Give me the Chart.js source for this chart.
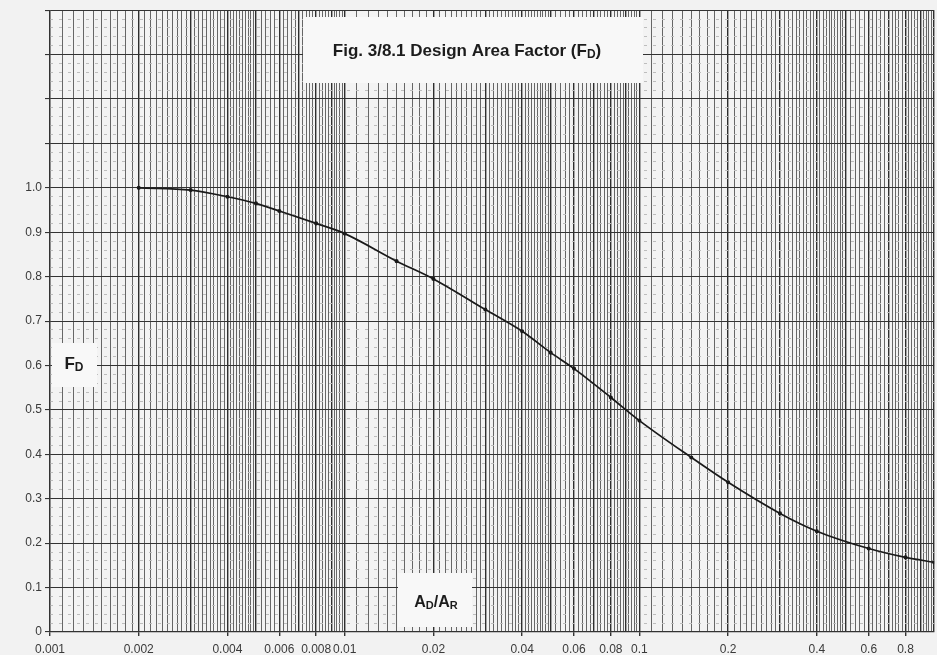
<!DOCTYPE html>
<html>
<head>
<meta charset="utf-8">
<title>Design Area Factor</title>
<script src="https://cdn.jsdelivr.net/npm/chart.js@4.4.1/dist/chart.umd.min.js"></script>
<style>
  html, body { margin: 0; padding: 0; background: #f2f2f2; }
  #wrap { width: 937px; height: 655px; }
</style>
</head>
<body>
<div id="wrap"><canvas id="fdChart" width="937" height="655"></canvas></div>
<script>
// A_D/A_R against F_D
const ratios  = [0.002, 0.003, 0.004, 0.005, 0.006, 0.008, 0.01, 0.015, 0.02, 0.03, 0.04, 0.05, 0.06, 0.08, 0.1, 0.15, 0.2, 0.3, 0.4, 0.6, 0.8, 1.0];
const factors = [1.0, 0.995, 0.98, 0.965, 0.948, 0.92, 0.897, 0.835, 0.795, 0.726, 0.677, 0.629, 0.593, 0.528, 0.476, 0.393, 0.337, 0.267, 0.227, 0.188, 0.168, 0.157];

const xTickLabels = [0.001, 0.002, 0.004, 0.006, 0.008, 0.01, 0.02, 0.04, 0.06, 0.08, 0.1, 0.2, 0.4, 0.6, 0.8];
const yTickLabels = [0, 0.1, 0.2, 0.3, 0.4, 0.5, 0.6, 0.7, 0.8, 0.9, 1.0];

const X_MIN = 0.001, X_MAX = 1.0;
const Y_MIN = 0, Y_MAX = 1.4;

// log paper ruling: mantissa every 0.1 up to 5, every 0.2 from 5 to 10
const paperLines = [];
for (let e = -3; e <= -1; e++) {
  for (let k = 10; k < 50; k++) paperLines.push(Number((k * Math.pow(10, e - 1)).toPrecision(6)));
  for (let k = 50; k < 100; k += 2) paperLines.push(Number((k * Math.pow(10, e - 1)).toPrecision(6)));
}
paperLines.push(X_MAX);

const near = (a, b) => Math.abs(a - b) <= Math.abs(b) * 1e-6 + 1e-12;
const isLabelled = v => xTickLabels.some(l => near(v, l));
const isWhole = v => { // 1,2,...,9 x 10^n
  const m = v / Math.pow(10, Math.floor(Math.log10(v) + 1e-9));
  return Math.abs(m - Math.round(m)) < 1e-6;
};
const isTenth = v => Math.abs(v * 10 - Math.round(v * 10)) < 1e-6;

function drawParts(ctx, parts, cx, cy, size) {
  // parts: [text, subscript?]
  const fontFor = sub => 'bold ' + (sub ? Math.round(size * 0.68) : size) + 'px "Liberation Sans", Arial, sans-serif';
  let total = 0;
  parts.forEach(([t, sub]) => { ctx.font = fontFor(sub); total += ctx.measureText(t).width; });
  let x = cx - total / 2;
  ctx.textBaseline = 'middle';
  ctx.textAlign = 'left';
  parts.forEach(([t, sub]) => {
    ctx.font = fontFor(sub);
    ctx.fillText(t, x, sub ? cy + size * 0.2 : cy);
    x += ctx.measureText(t).width;
  });
}

function panel(ctx, x, y, w, h) {
  ctx.fillStyle = '#f8f8f8';
  ctx.fillRect(x, y, w, h);
}

const paperPlugin = {
  id: 'paper',
  beforeDraw(chart) {
    const { ctx, chartArea: a } = chart;
    ctx.save();
    ctx.fillStyle = '#f2f2f2';
    ctx.fillRect(0, 0, chart.width, chart.height);
    ctx.fillStyle = '#f3f3f3';
    ctx.fillRect(a.left, a.top, a.right - a.left, a.bottom - a.top);
    ctx.restore();
  },
  afterDraw(chart) {
    const { ctx } = chart;
    ctx.save();
    panel(ctx, 303, 17, 340, 66);
    ctx.fillStyle = '#1c1c1c';
    drawParts(ctx, [['Fig. 3/8.1 Design Area Factor (F', false], ['D', true], [')', false]], 467, 51, 17);

    panel(ctx, 52, 343, 45, 44);
    ctx.fillStyle = '#1c1c1c';
    drawParts(ctx, [['F', false], ['D', true]], 74, 364, 17);

    panel(ctx, 398, 573, 74, 54);
    ctx.fillStyle = '#1c1c1c';
    drawParts(ctx, [['A', false], ['D', true], ['/A', false], ['R', true]], 436, 603, 16);
    ctx.restore();
  }
};

new Chart(document.getElementById('fdChart'), {
  type: 'line',
  data: {
    datasets: [{
      label: 'F_D',
      data: ratios.map((r, i) => ({ x: r, y: factors[i] })),
      borderColor: '#1a1a1a',
      backgroundColor: '#1a1a1a',
      borderWidth: 1.7,
      pointRadius: 1.2,
      pointHoverRadius: 1.2,
      cubicInterpolationMode: 'monotone',
      fill: false
    }]
  },
  options: {
    responsive: false,
    animation: false,
    events: [],
    layout: { padding: { top: 7, right: 2, left: 0, bottom: 0 } },
    plugins: {
      legend: { display: false },
      tooltip: { enabled: false }
    },
    scales: {
      x: {
        type: 'logarithmic',
        min: X_MIN,
        max: X_MAX,
        afterBuildTicks: s => { s.ticks = paperLines.map(v => ({ value: v })); },
        afterFit: s => { s.height = 23; s.paddingLeft = 0; s.paddingRight = 0; },
        ticks: {
          autoSkip: false,
          maxRotation: 0,
          minRotation: 0,
          padding: 6,
          color: '#3a3a3a',
          font: { family: '"Liberation Sans", Arial, sans-serif', size: 12 },
          callback: v => isLabelled(v) ? String(xTickLabels.find(l => near(v, l))) : ''
        },
        grid: {
          color: c => isWhole(c.tick.value) ? '#2e2e2e' : '#666',
          lineWidth: c => isWhole(c.tick.value) ? 1.4 : 1,
          tickLength: 4,
          tickColor: c => isLabelled(c.tick.value) ? '#333' : 'rgba(0,0,0,0)'
        },
        border: { color: '#333', width: 1.2 }
      },
      y: {
        type: 'linear',
        position: 'left',
        min: Y_MIN,
        max: Y_MAX,
        afterFit: s => { s.width = 50; },
        ticks: {
          stepSize: 0.1,
          padding: 3,
          color: '#3a3a3a',
          font: { family: '"Liberation Sans", Arial, sans-serif', size: 12 },
          callback: v => {
            const l = yTickLabels.find(t => near(v, t) || (t === 0 && Math.abs(v) < 1e-9));
            if (l === undefined) return '';
            return l === 0 ? '0' : l.toFixed(1);
          }
        },
        grid: { color: '#333', lineWidth: 1.1, tickLength: 5, tickColor: '#333' },
        border: { color: '#333', width: 1.2 }
      },
      yMinor: {
        type: 'linear',
        position: 'left',
        min: Y_MIN,
        max: Y_MAX,
        afterFit: s => { s.width = 0; },
        ticks: { display: false, stepSize: 0.02 },
        grid: {
          drawTicks: false,
          color: c => isTenth(c.tick.value) ? 'rgba(0,0,0,0)' : '#bdbdbd',
          lineWidth: 1
        },
        border: { display: false, dash: [3, 6] }
      }
    }
  },
  plugins: [paperPlugin]
});
</script>
</body>
</html>
